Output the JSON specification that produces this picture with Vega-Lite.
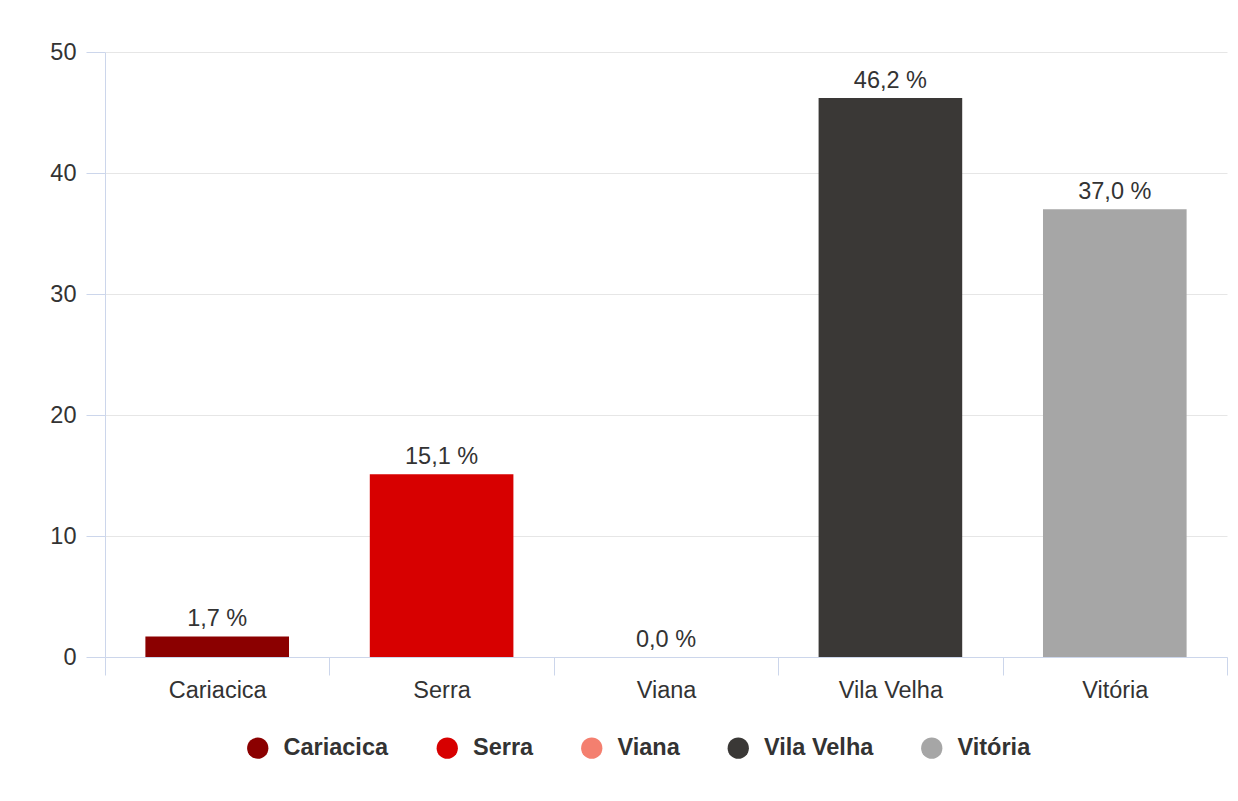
{
  "$schema": "https://vega.github.io/schema/vega-lite/v6.json",
  "width": 1122,
  "height": 605,
  "autosize": {"type": "none"},
  "padding": {"left": 105, "top": 52, "right": 11, "bottom": 144},
  "background": "white",
  "data": {
    "values": [
      {"municipio": "Cariacica", "valor": 1.7, "rotulo": "1,7 %"},
      {"municipio": "Serra", "valor": 15.1, "rotulo": "15,1 %"},
      {"municipio": "Viana", "valor": 0.0, "rotulo": "0,0 %"},
      {"municipio": "Vila Velha", "valor": 46.2, "rotulo": "46,2 %"},
      {"municipio": "Vitória", "valor": 37.0, "rotulo": "37,0 %"}
    ]
  },
  "encoding": {
    "x": {
      "field": "municipio",
      "type": "nominal",
      "sort": null,
      "title": null,
      "scale": {"paddingInner": 0, "paddingOuter": 0},
      "axis": {
        "labelAngle": 0,
        "labelFont": "Liberation Sans",
        "labelFontSize": 23.5,
        "labelColor": "#333333",
        "labelPadding": 3,
        "tickBand": "extent",
        "tickSize": 18,
        "tickColor": "#ccd6eb",
        "domainColor": "#ccd6eb",
        "grid": false
      }
    },
    "y": {
      "field": "valor",
      "type": "quantitative",
      "title": null,
      "scale": {"domain": [0, 50]},
      "axis": {
        "values": [0, 10, 20, 30, 40, 50],
        "labelFont": "Liberation Sans",
        "labelFontSize": 23.5,
        "labelColor": "#333333",
        "labelPadding": 10,
        "tickSize": 19,
        "tickColor": "#ccd6eb",
        "domainColor": "#ccd6eb",
        "gridColor": "#e6e6e6",
        "grid": true
      }
    }
  },
  "layer": [
    {
      "mark": {"type": "bar", "width": {"band": 0.64}},
      "encoding": {
        "color": {
          "field": "municipio",
          "type": "nominal",
          "sort": null,
          "title": null,
          "scale": {
            "domain": ["Cariacica", "Serra", "Viana", "Vila Velha", "Vitória"],
            "range": ["#8b0000", "#d70000", "#f47f6f", "#3a3836", "#a6a6a6"]
          },
          "legend": {
            "orient": "none",
            "legendX": 141,
            "legendY": 684,
            "direction": "horizontal",
            "symbolType": "circle",
            "symbolSize": 452,
            "symbolStrokeWidth": 0,
            "labelFont": "Liberation Sans",
            "labelFontSize": 23.5,
            "labelFontWeight": "bold",
            "labelColor": "#333333",
            "labelOffset": 14,
            "columnPadding": 46.5
          }
        }
      }
    },
    {
      "mark": {
        "type": "text",
        "baseline": "alphabetic",
        "dy": -10,
        "font": "Liberation Sans",
        "fontSize": 23.5,
        "color": "#333333"
      },
      "encoding": {
        "text": {"field": "rotulo", "type": "nominal"}
      }
    }
  ],
  "config": {
    "view": {"stroke": null},
    "axis": {"domainWidth": 1, "tickWidth": 1, "gridWidth": 1}
  }
}
